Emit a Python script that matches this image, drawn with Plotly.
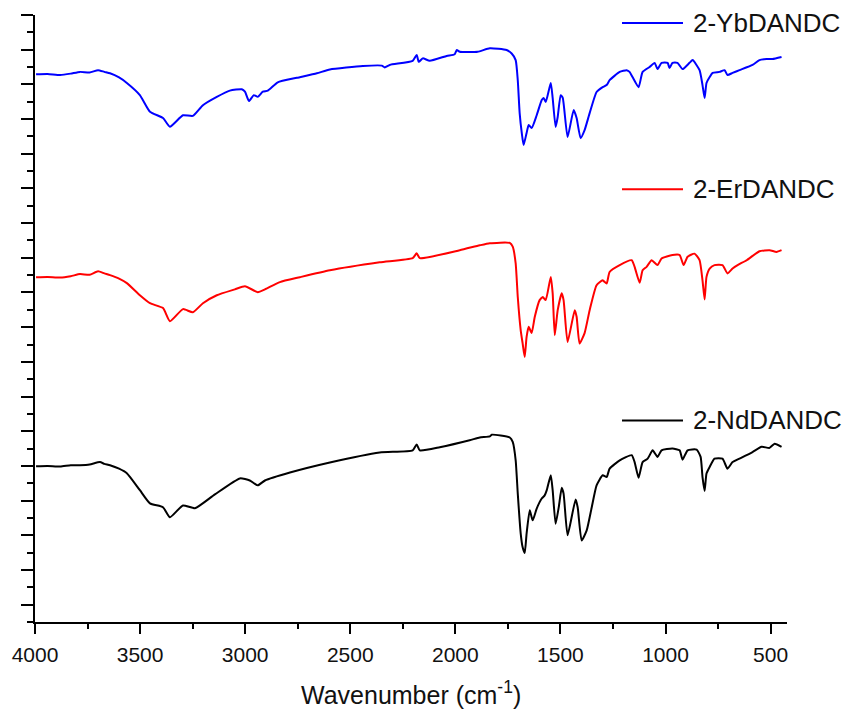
import plotly.graph_objects as go

# FTIR spectra (offset transmittance, arbitrary units) vs wavenumber (cm-1)
yb_wn = [3995, 3940, 3880, 3830, 3786, 3740, 3700, 3670, 3643, 3600, 3563, 3501, 3453, 3391, 3358,
         3296, 3249, 3201, 3135, 3073, 3016, 3001, 2982, 2959, 2940, 2916, 2892, 2845, 2754,
         2659, 2597, 2440, 2350, 2336, 2312, 2203, 2184, 2174, 2155, 2122, 2041, 2003, 1993,
         1979, 1894, 1836, 1756, 1732, 1713, 1703, 1694, 1684, 1675, 1661, 1651, 1637, 1613,
         1589, 1580, 1570, 1546, 1537, 1523, 1513, 1499, 1489, 1466, 1437, 1423, 1404, 1385,
         1361, 1328, 1299, 1280, 1266, 1218, 1185, 1171, 1157, 1128, 1109, 1076, 1052, 1038,
         1019, 990, 981, 967, 943, 919, 886, 871, 838, 824, 814, 805, 790, 776, 743, 719, 705,
         681, 648, 586, 553, 519, 491, 448]
yb_t = [15.29, 15.30, 15.27, 15.31, 15.36, 15.34, 15.41, 15.36, 15.32, 15.20, 15.04, 14.69, 14.21, 14.03, 13.78,
        14.11, 14.09, 14.40, 14.64, 14.82, 14.86, 14.79, 14.52, 14.69, 14.64, 14.79, 14.82, 15.06, 15.19,
        15.32, 15.43, 15.53, 15.54, 15.49, 15.56, 15.68, 15.85, 15.65, 15.75, 15.68, 15.82, 15.87, 15.99,
        15.94, 15.94, 16.04, 15.99, 15.89, 15.70, 15.12, 14.17, 13.60, 13.25, 13.60, 13.83, 13.74, 14.11,
        14.55, 14.61, 14.49, 15.04, 14.61, 13.77, 14.06, 14.69, 14.61, 13.48, 14.26, 14.03, 13.45, 13.68,
        14.17, 14.78, 14.92, 14.98, 15.12, 15.36, 15.41, 15.36, 15.21, 14.92, 15.36, 15.50, 15.62, 15.44,
        15.62, 15.62, 15.47, 15.62, 15.62, 15.44, 15.62, 15.70, 15.41, 14.98, 14.61, 15.04, 15.21, 15.33,
        15.36, 15.41, 15.27, 15.33, 15.41, 15.56, 15.70, 15.73, 15.73, 15.79]

er_wn = [3995, 3940, 3880, 3830, 3786, 3740, 3700, 3670, 3643, 3600, 3563, 3501, 3453, 3391, 3358,
         3296, 3249, 3201, 3135, 3049, 3001, 2940, 2906, 2835, 2740, 2597, 2360, 2203, 2184,
         2169, 1979, 1884, 1836, 1741, 1727, 1713, 1703, 1689, 1680, 1670, 1661, 1651, 1637,
         1622, 1599, 1584, 1570, 1546, 1537, 1527, 1513, 1494, 1485, 1466, 1432, 1423, 1409,
         1385, 1361, 1328, 1299, 1280, 1266, 1218, 1161, 1147, 1123, 1109, 1090, 1066, 1038,
         1019, 967, 933, 914, 895, 862, 838, 824, 814, 805, 790, 767, 729, 705, 681, 657, 614,
         553, 505, 472, 448]
er_t = [9.44, 9.45, 9.43, 9.47, 9.53, 9.51, 9.61, 9.55, 9.50, 9.40, 9.27, 8.92, 8.69, 8.55, 8.17,
        8.52, 8.43, 8.69, 8.92, 9.09, 9.18, 9.01, 9.09, 9.30, 9.44, 9.64, 9.87, 9.99, 10.13,
        9.99, 10.22, 10.36, 10.42, 10.43, 10.32, 9.84, 8.87, 7.91, 7.54, 7.14, 7.72, 8.01, 7.83,
        8.30, 8.78, 8.87, 8.78, 9.45, 8.98, 7.77, 8.49, 8.98, 8.78, 7.57, 8.49, 8.30, 7.53,
        7.83, 8.49, 9.21, 9.35, 9.26, 9.59, 9.79, 9.93, 9.74, 9.28, 9.64, 9.74, 9.93, 9.79,
        9.98, 10.08, 10.08, 9.79, 10.03, 10.12, 9.93, 9.35, 8.80, 9.45, 9.69, 9.79, 9.79, 9.55,
        9.69, 9.79, 9.93, 10.19, 10.22, 10.17, 10.22]

nd_wn = [3995, 3940, 3880, 3830, 3786, 3740, 3691, 3670, 3643, 3600, 3563, 3501, 3453, 3391, 3358,
         3296, 3239, 3144, 3025, 2978, 2940, 2906, 2787, 2597, 2360, 2203, 2184, 2169, 2074,
         1932, 1884, 1836, 1827, 1741, 1727, 1713, 1703, 1689, 1680, 1670, 1661, 1646, 1632,
         1613, 1589, 1575, 1565, 1546, 1537, 1523, 1508, 1494, 1485, 1466, 1428, 1418, 1399,
         1375, 1351, 1328, 1299, 1280, 1266, 1218, 1161, 1147, 1128, 1109, 1085, 1061, 1038,
         1019, 967, 933, 919, 895, 852, 833, 824, 814, 805, 790, 767, 729, 705, 681, 648, 586,
         543, 505, 481, 448]
nd_t = [3.99, 4.00, 3.98, 4.02, 4.02, 4.04, 4.11, 4.06, 4.02, 3.92, 3.79, 3.30, 2.92, 2.81, 2.52,
        2.86, 2.78, 3.18, 3.64, 3.58, 3.44, 3.58, 3.81, 4.10, 4.39, 4.45, 4.62, 4.45, 4.54,
        4.74, 4.82, 4.85, 4.90, 4.82, 4.69, 4.16, 3.20, 2.05, 1.66, 1.49, 2.05, 2.72, 2.43,
        2.77, 3.06, 3.15, 3.30, 3.73, 3.30, 2.33, 2.81, 3.37, 3.20, 2.00, 3.03, 2.81, 1.85,
        2.14, 2.81, 3.44, 3.73, 3.68, 3.92, 4.16, 4.31, 4.11, 3.66, 4.11, 4.21, 4.45, 4.26,
        4.45, 4.50, 4.45, 4.18, 4.45, 4.47, 4.26, 3.68, 3.28, 3.78, 3.97, 4.21, 4.21, 3.92,
        4.11, 4.21, 4.40, 4.55, 4.52, 4.64, 4.55]

names = ["2-YbDANDC", "2-ErDANDC", "2-NdDANDC"]
colors = ["#0000ff", "#ff0000", "#000000"]
series = [(yb_wn, yb_t), (er_wn, er_t), (nd_wn, nd_t)]
# vertical placement (paper fraction) of each inline label
label_y = [0.987, 0.713, 0.332]

FONT = "Liberation Sans, Arial, sans-serif"

fig = go.Figure()
for (wn, t), name, col in zip(series, names, colors):
    fig.add_trace(go.Scatter(x=wn, y=t, mode="lines", name=name,
                             line=dict(color=col, width=2, shape="spline", smoothing=0.5),
                             showlegend=False))

for name, col, ly in zip(names, colors, label_y):
    fig.add_shape(type="line", xref="paper", yref="paper", x0=0.7806, x1=0.8617,
                  y0=ly, y1=ly, line=dict(color=col, width=2))
    fig.add_annotation(text=name, xref="paper", yref="paper", x=0.8723, y=ly,
                       xanchor="left", yanchor="middle", showarrow=False,
                       font=dict(family=FONT, size=26, color="#111111"))

fig.add_annotation(text="Wavenumber (cm<sup>-1</sup>)", xref="paper", yref="paper",
                   x=0.5, y=-0.117, xanchor="center", yanchor="middle", showarrow=False,
                   font=dict(family=FONT, size=25, color="#111111"))

fig.update_layout(
    width=851, height=713,
    margin=dict(l=35, r=64, t=15, b=91),
    paper_bgcolor="white", plot_bgcolor="white",
    font=dict(family=FONT, color="#111111"),
    xaxis=dict(range=[4000, 422], tickmode="array",
               tickvals=[4000, 3500, 3000, 2500, 2000, 1500, 1000, 500],
               ticks="outside", ticklen=10, tickwidth=2, tickcolor="black",
               minor=dict(tickvals=[3750, 3250, 2750, 2250, 1750, 1250, 750],
                          ticks="outside", ticklen=5, tickwidth=2, tickcolor="black"),
               showline=True, linecolor="black", linewidth=2, showgrid=False, zeroline=False,
               tickfont=dict(family=FONT, size=21, color="#111111"), ticklabelstandoff=3),
    yaxis=dict(range=[-0.5, 17], tick0=0, dtick=1, ticks="outside", ticklen=12,
               tickwidth=2, tickcolor="black", showticklabels=False,
               minor=dict(dtick=0.5, ticks="outside", ticklen=6, tickwidth=2, tickcolor="black"),
               showline=True, linecolor="black", linewidth=2, showgrid=False, zeroline=False),
)

fig.write_html("out.html")
